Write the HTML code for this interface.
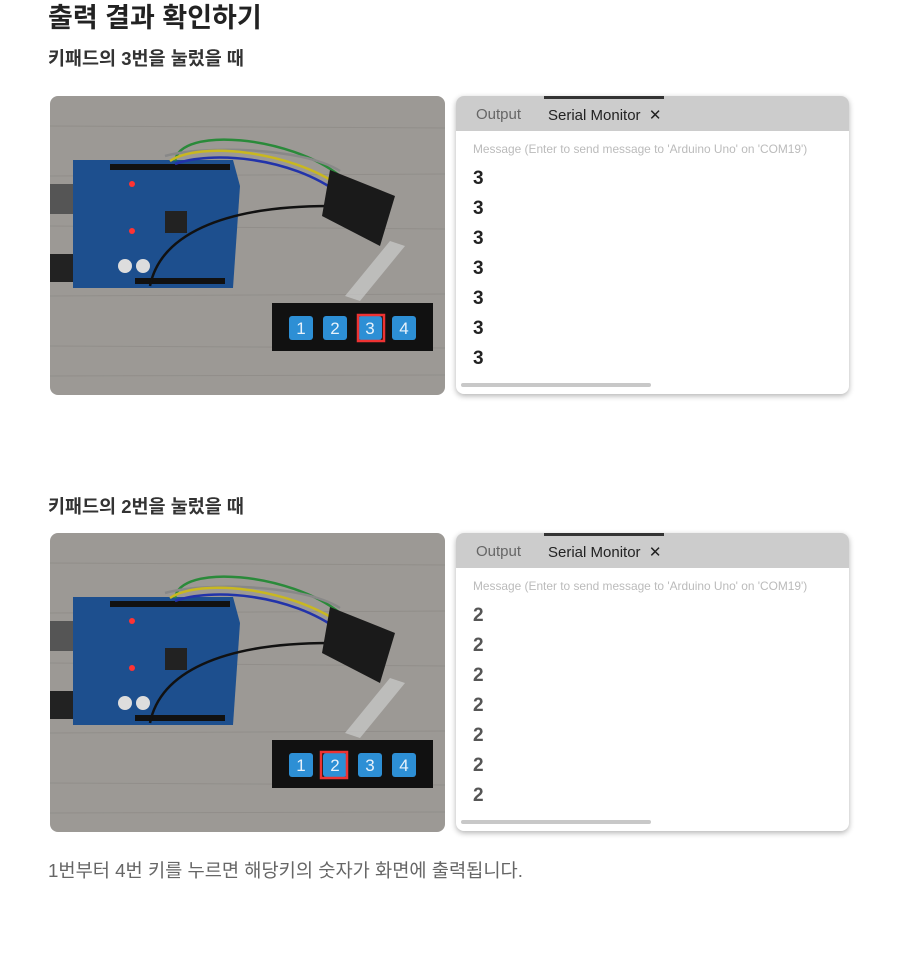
<!DOCTYPE html>
<html><head><meta charset="utf-8"><style>
body{margin:0;width:900px;height:975px;background:#fff;position:relative;font-family:"Liberation Sans","Noto Sans CJK KR",sans-serif;overflow:hidden}
.a{position:absolute}
h1{position:absolute;left:48px;top:-4px;margin:0;font-size:27px;font-weight:bold;color:#222}
.sub{position:absolute;left:48px;font-size:18.5px;font-weight:bold;color:#333}
.photo{position:absolute;left:50px;width:395px;height:299px;border-radius:8px;overflow:hidden}
.panel{position:absolute;left:456px;width:393px;height:298px;border-radius:8px;background:#fff;box-shadow:0 2px 6px rgba(0,0,0,.3);overflow:hidden}
.tabs{height:35px;background:#cccccc;position:relative;font-size:15px;color:#666}
.tabs .o{position:absolute;left:20px;top:10px}
.tabs .s{position:absolute;left:92px;top:10px;color:#222}
.tabs .bar{position:absolute;left:88px;top:0;width:120px;height:3px;background:#333}
.msg{position:absolute;left:17px;top:46px;font-size:11.9px;color:#bbb}
.num{position:absolute;left:17px;font-size:19px;font-weight:bold}
.sb{position:absolute;left:5px;bottom:7px;width:190px;height:4px;background:#c8c8c8;border-radius:2px}
</style></head><body>
<h1>출력 결과 확인하기</h1>
<div class="sub" style="top:45px">키패드의 3번을 눌렀을 때</div>
<div class="sub" style="top:493px">키패드의 2번을 눌렀을 때</div>

<svg width="0" height="0" style="position:absolute"><defs>
<g id="scene">
<rect width="395" height="299" fill="#9c9995"/>
<g stroke="#8a8783" stroke-width="1" opacity=".6">
<line x1="0" y1="30" x2="395" y2="32"/><line x1="0" y1="80" x2="395" y2="78"/><line x1="0" y1="130" x2="395" y2="133"/><line x1="0" y1="200" x2="395" y2="198"/><line x1="0" y1="250" x2="395" y2="252"/><line x1="0" y1="280" x2="395" y2="279"/></g>
<rect x="0" y="88" width="25" height="30" fill="#555"/>
<rect x="0" y="158" width="28" height="28" fill="#222"/>
<path d="M23 64 L183 64 L190 90 L183 192 L23 192 Z" fill="#1d4f8e"/>
<rect x="60" y="68" width="120" height="6" fill="#111"/>
<rect x="85" y="182" width="90" height="6" fill="#111"/>
<rect x="115" y="115" width="22" height="22" fill="#222"/>
<circle cx="82" cy="88" r="3" fill="#f33"/><circle cx="82" cy="135" r="3" fill="#f33"/>
<circle cx="75" cy="170" r="7" fill="#ddd"/><circle cx="93" cy="170" r="7" fill="#ddd"/>
<g fill="none" stroke-width="2.5">
<path d="M125 65 C130 30 240 40 290 80" stroke="#2a8a3a"/>
<path d="M115 60 C150 50 250 50 290 75" stroke="#888"/>
<path d="M120 65 C150 45 240 55 290 90" stroke="#c9b820"/>
<path d="M125 68 C160 55 240 60 290 98" stroke="#2233aa"/>
<path d="M100 190 C110 140 170 110 280 110" stroke="#111"/>
</g>
<polygon points="280,74 345,100 330,150 272,120" fill="#1a1a1a"/>
<polygon points="295,200 340,145 355,150 310,205" fill="#ccc" opacity=".7"/>
<rect x="222" y="207" width="161" height="48" fill="#111"/>
<rect x="239" y="220" width="24" height="24" rx="3" fill="#2d8fd5"/>
<rect x="273" y="220" width="24" height="24" rx="3" fill="#2d8fd5"/>
<rect x="308" y="220" width="24" height="24" rx="3" fill="#2d8fd5"/>
<rect x="342" y="220" width="24" height="24" rx="3" fill="#2d8fd5"/>
<g fill="#e8f2fb" font-size="17" text-anchor="middle" font-family="Liberation Sans"><text x="251" y="238">1</text><text x="285" y="238">2</text><text x="320" y="238">3</text><text x="354" y="238">4</text></g>
</g></defs></svg>

<div class="photo" style="top:96px"><svg width="395" height="299"><use href="#scene"/><rect x="308" y="219" width="26" height="26" fill="none" stroke="#e33" stroke-width="2.5"/></svg></div>
<div class="photo" style="top:533px"><svg width="395" height="299"><use href="#scene"/><rect x="271" y="219" width="26" height="26" fill="none" stroke="#e33" stroke-width="2.5"/></svg></div>

<div class="panel" style="top:96px">
<div class="tabs"><div class="bar"></div><span class="o">Output</span><span class="s">Serial Monitor&nbsp; ✕</span></div>
<div class="msg">Message (Enter to send message to 'Arduino Uno' on 'COM19')</div>
<div class="num" style="top:72px;color:#222">3</div><div class="num" style="top:102px;color:#222">3</div><div class="num" style="top:132px;color:#222">3</div><div class="num" style="top:162px;color:#222">3</div><div class="num" style="top:192px;color:#222">3</div><div class="num" style="top:222px;color:#222">3</div><div class="num" style="top:252px;color:#222">3</div>
<div class="sb"></div></div>

<div class="panel" style="top:533px">
<div class="tabs"><div class="bar"></div><span class="o">Output</span><span class="s">Serial Monitor&nbsp; ✕</span></div>
<div class="msg">Message (Enter to send message to 'Arduino Uno' on 'COM19')</div>
<div class="num" style="top:72px;color:#555">2</div><div class="num" style="top:102px;color:#555">2</div><div class="num" style="top:132px;color:#555">2</div><div class="num" style="top:162px;color:#555">2</div><div class="num" style="top:192px;color:#555">2</div><div class="num" style="top:222px;color:#555">2</div><div class="num" style="top:252px;color:#555">2</div>
<div class="sb"></div></div>

<div class="a" style="left:48px;top:856px;font-size:18.7px;color:#666">1번부터 4번 키를 누르면 해당키의 숫자가 화면에 출력됩니다.</div>
</body></html>
